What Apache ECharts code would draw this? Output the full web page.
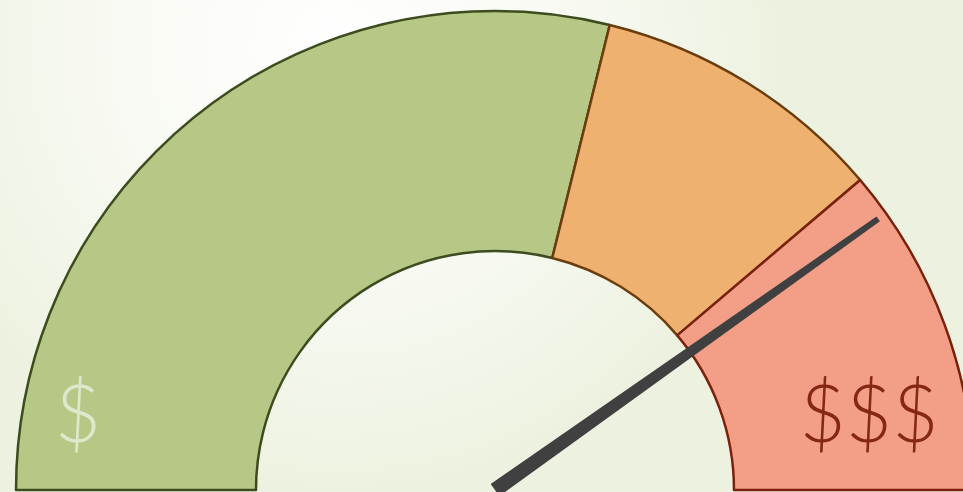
<!DOCTYPE html>
<html>
<head>
<meta charset="utf-8">
<script src="https://cdn.jsdelivr.net/npm/echarts@6/dist/echarts.min.js"></script>
<style>
  html, body { margin: 0; padding: 0; }
  #chart { width: 963px; height: 492px; }
</style>
</head>
<body>
<div id="chart"></div>
<script>
// band shares of the half circle (percent)
const bands = ['low', 'mid', 'high']
const bandValues = [57.7, 19.9, 22.4]
const bandColors = ['#b7c886', '#efb16f', '#f39f88']
const bandBorders = ['#3d4c1e', '#6a3c0e', '#7a210c']
// needle position (0-100 along the dial)
const needleValue = [80.4]
const endLabels = ['$', '$$$']

const chart = echarts.init(document.getElementById('chart'))

const cx = 495
const cy = 490

const option = {
  backgroundColor: {
    type: 'radial',
    x: 0.35, y: 0.1, r: 0.9,
    colorStops: [
      { offset: 0, color: '#ffffff' },
      { offset: 0.5, color: '#f8faf3' },
      { offset: 1, color: '#edf2e0' }
    ]
  },
  animation: false,
  series: [
    {
      type: 'pie',
      z: 2,
      center: [cx, cy],
      radius: [239, 479],
      startAngle: 180,
      endAngle: 0,
      clockwise: true,
      silent: true,
      label: { show: false },
      labelLine: { show: false },
      data: bands.map((name, i) => ({
        name: name,
        value: bandValues[i],
        itemStyle: {
          color: bandColors[i],
          borderColor: bandBorders[i],
          borderWidth: 2.5
        }
      }))
    },
    {
      type: 'gauge',
      z: 10,
      center: [cx, cy],
      radius: 479,
      startAngle: 180,
      endAngle: 0,
      min: 0,
      max: 100,
      silent: true,
      axisLine: { show: false },
      splitLine: { show: false },
      axisTick: { show: false },
      axisLabel: { show: false },
      title: { show: false },
      detail: { show: false },
      anchor: { show: false },
      pointer: {
        icon: 'path://M3,0 L7,0 L10,100 L0,100 Z',
        length: '98%',
        width: 15,
        offsetCenter: [0, 0],
        itemStyle: { color: '#404040' }
      },
      data: [{ value: needleValue[0] }]
    }
  ],
  graphic: [
    {
      type: 'text',
      z: 100,
      x: 78, y: 416,
      style: {
        text: endLabels[0],
        font: '300 80px Lato',
        fill: '#dfe8cc',
        align: 'center',
        verticalAlign: 'middle'
      }
    },
    {
      type: 'text',
      z: 100,
      x: 869, y: 416,
      style: {
        text: endLabels[1],
        font: '300 80px Lato',
        fill: '#862811',
        align: 'center',
        verticalAlign: 'middle'
      }
    }
  ]
}

chart.setOption(option)
</script>
</body>
</html>
